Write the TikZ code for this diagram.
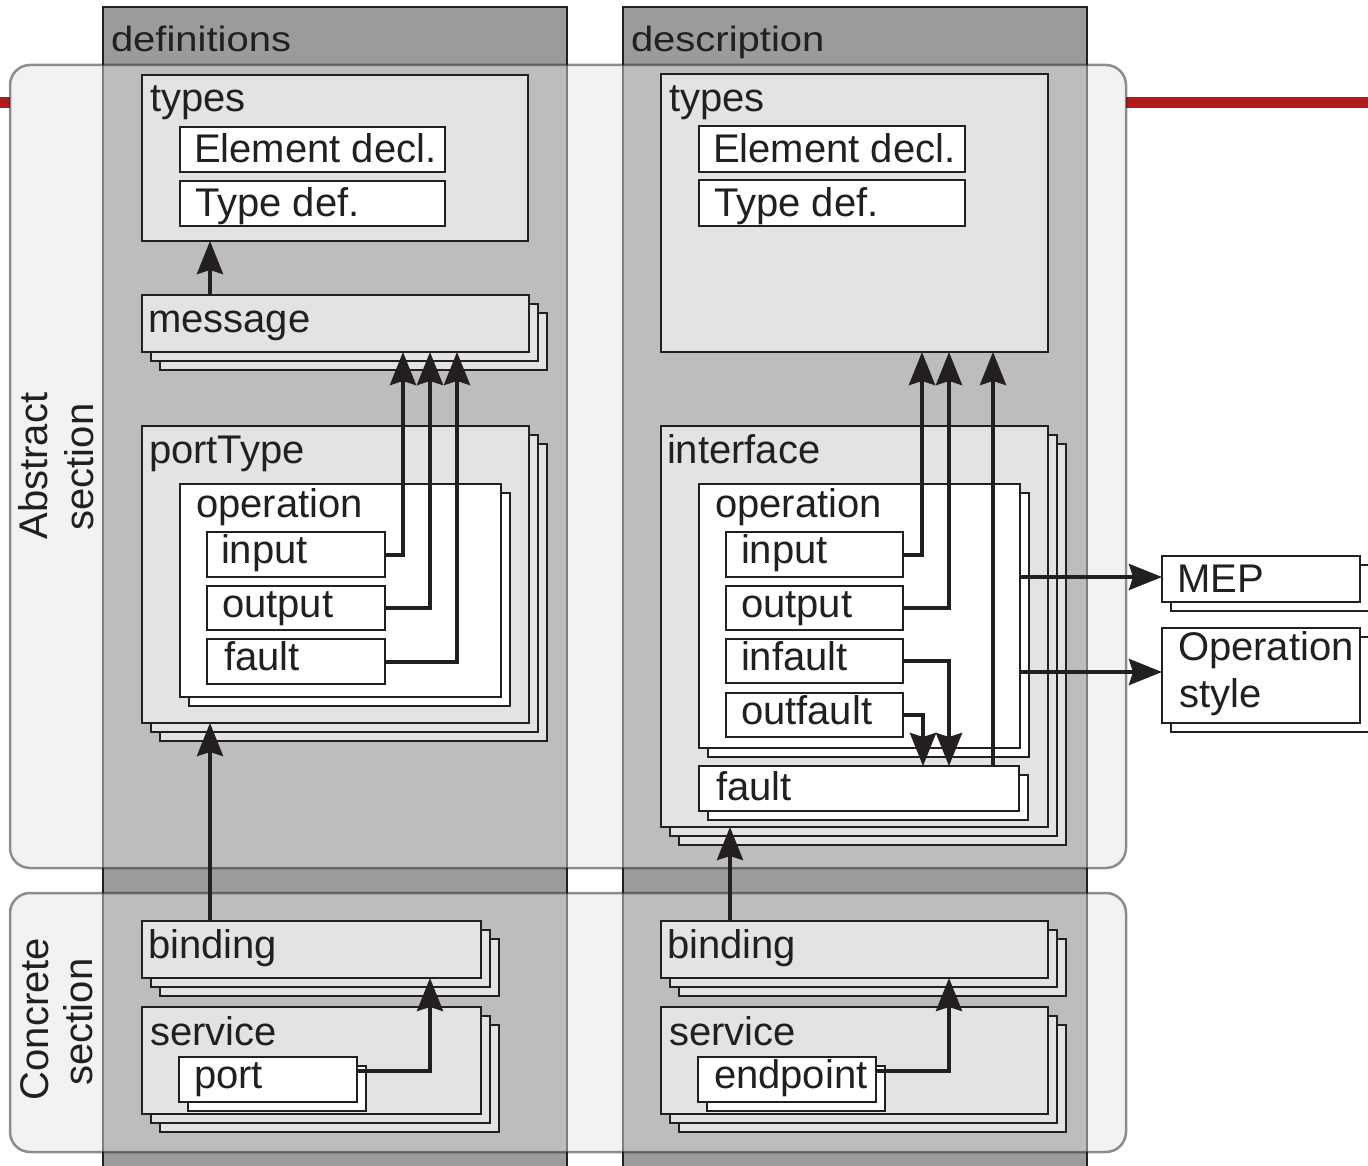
\documentclass[tikz,border=0pt]{standalone}
\usepackage{fontspec}
\setmainfont{Liberation Sans}
\usepackage{graphicx}
\usetikzlibrary{arrows.meta}

\definecolor{ink}{HTML}{231F20}
\definecolor{colfill}{HTML}{9B9B9B}
\definecolor{boxgray}{HTML}{E3E3E3}
\definecolor{secfill}{HTML}{E4E4E4}
\definecolor{rulered}{HTML}{B01C1C}

\tikzset{
  every node/.style={inner sep=0pt, outer sep=0pt},
  gbox/.style={rectangle, draw=ink, line width=2pt, fill=boxgray},
  wbox/.style={rectangle, draw=ink, line width=2pt, fill=white},
  lab/.style={text=ink, font=\fontsize{40}{46}\selectfont, anchor=base west},
  vlab/.style={lab, anchor=base, rotate=90},
  conn/.style={draw=ink, line width=4pt, -{Stealth[length=33pt,width=26pt,inset=4pt]}},
  colband/.style={draw=ink, line width=2.5pt, fill=colfill},
  secpanel/.style={draw=black!90, fill=secfill, opacity=0.48, line width=2.5pt, rounded corners=20pt},
}

% box with 0, 1 or 2 stacked copies behind it: name, style, copies, x1, y1, x2, y2
\newcommand\stackbox[7]{%
  \pgfmathsetmacro\bw{#6-#4}%
  \pgfmathsetmacro\bh{#7-#5}%
  \ifnum#3>1
    \node[#2, minimum width=\bw pt, minimum height=\bh pt, anchor=north west] (#1-s2) at (#4+18,#5+18) {};
  \fi
  \ifnum#3>0
    \node[#2, minimum width=\bw pt, minimum height=\bh pt, anchor=north west] (#1-s1) at (#4+9,#5+9) {};
  \fi
  \node[#2, minimum width=\bw pt, minimum height=\bh pt, anchor=north west] (#1) at (#4,#5) {};
}

\begin{document}
\begin{tikzpicture}[x=1pt, y=-1pt]
\useasboundingbox (0,0) rectangle (1368,1166);
\fill[white] (0,0) rectangle (1368,1166);

% red rule behind the sections
\fill[rulered] (0,97) rectangle (10,108);
\fill[rulered] (1126,97) rectangle (1368,108);

% the two document columns
\path[colband] (103,7) rectangle (567,1172);
\path[colband] (623,7) rectangle (1087,1172);

% abstract and concrete sections
\path[secpanel] (10,65) rectangle (1126,868);
\path[secpanel] (10,893) rectangle (1126,1152);

% column headers
\node[lab] (hdef) at (111,52) {\scalebox{1}[0.88]{definitions}};
\node[lab] (hdesc) at (631,52) {\scalebox{1}[0.88]{description}};

% section titles
\node[vlab] (abs1) at (47,466) {Abstract};
\node[vlab] (abs2) at (93,467) {section};
\node[vlab] (con1) at (48,1019) {Concrete};
\node[vlab] (con2) at (92,1022) {section};

% ---------- definitions (left) ----------
\stackbox{ltypes}{gbox}{0}{142}{75}{528}{241}
\node[lab] (ltypes-t) at (150,112) {types};
\stackbox{lelem}{wbox}{0}{180}{127}{445}{172}
\node[lab] (lelem-t) at (194,163) {Element decl.};
\stackbox{ltdef}{wbox}{0}{180}{181}{445}{226}
\node[lab] (ltdef-t) at (195,217) {Type def.};

\stackbox{msg}{gbox}{2}{142}{295}{529}{352}
\node[lab] (msg-t) at (148,332) {message};

\stackbox{ptype}{gbox}{2}{142}{426}{529}{723}
\node[lab] (ptype-t) at (149,463) {portType};
\stackbox{lop}{wbox}{1}{180}{484}{501}{697}
\node[lab] (lop-t) at (196,517) {operation};
\stackbox{lin}{wbox}{0}{207}{532}{385}{577}
\node[lab] (lin-t) at (221,563) {input};
\stackbox{lout}{wbox}{0}{207}{586}{385}{630}
\node[lab] (lout-t) at (222,617) {output};
\stackbox{lflt}{wbox}{0}{207}{639}{385}{684}
\node[lab] (lflt-t) at (224,670) {fault};

\stackbox{lbind}{gbox}{2}{142}{921}{481}{978}
\node[lab] (lbind-t) at (148,958) {binding};
\stackbox{lserv}{gbox}{2}{142}{1007}{481}{1114}
\node[lab] (lserv-t) at (150,1045) {service};
\stackbox{lportb}{wbox}{1}{179}{1057}{357}{1102}
\node[lab] (lportb-t) at (194,1088) {port};

% ---------- description (right) ----------
\stackbox{rtypes}{gbox}{0}{661}{74}{1048}{352}
\node[lab] (rtypes-t) at (669,112) {types};
\stackbox{relem}{wbox}{0}{699}{126}{965}{172}
\node[lab] (relem-t) at (713,163) {Element decl.};
\stackbox{rtdef}{wbox}{0}{699}{180}{965}{226}
\node[lab] (rtdef-t) at (714,217) {Type def.};

\stackbox{iface}{gbox}{2}{661}{426}{1048}{827}
\node[lab] (iface-t) at (667,463) {interface};
\stackbox{rop}{wbox}{1}{699}{484}{1020}{748}
\node[lab] (rop-t) at (715,517) {operation};
\stackbox{rin}{wbox}{0}{726}{532}{903}{577}
\node[lab] (rin-t) at (741,563) {input};
\stackbox{rout}{wbox}{0}{726}{586}{903}{630}
\node[lab] (rout-t) at (741,617) {output};
\stackbox{rinf}{wbox}{0}{726}{639}{903}{683}
\node[lab] (rinf-t) at (741,670) {infault};
\stackbox{routf}{wbox}{0}{726}{693}{903}{737}
\node[lab] (routf-t) at (741,724) {outfault};
\stackbox{rflt}{wbox}{1}{699}{766}{1019}{811}
\node[lab] (rflt-t) at (716,800) {fault};

\stackbox{rbind}{gbox}{2}{661}{921}{1048}{978}
\node[lab] (rbind-t) at (667,958) {binding};
\stackbox{rserv}{gbox}{2}{661}{1007}{1048}{1114}
\node[lab] (rserv-t) at (669,1045) {service};
\stackbox{endp}{wbox}{1}{698}{1057}{876}{1102}
\node[lab] (endp-t) at (714,1088) {endpoint};

% ---------- side properties ----------
\stackbox{mep}{wbox}{1}{1162}{556}{1360}{602}
\node[lab] (mep-t) at (1177,592) {MEP};
\stackbox{ostyle}{wbox}{1}{1162}{628}{1360}{723}
\node[lab] (ostyle-t1) at (1178,660) {Operation};
\node[lab] (ostyle-t2) at (1179,707) {style};

% ---------- connectors ----------
% definitions
\draw[conn] ([xshift=68pt]msg.north west) -- ([xshift=68pt]ltypes.south west);
\draw[conn] (lin.east) -| ([xshift=261pt]msg.south west);
\draw[conn] (lout.east) -| ([xshift=288pt]msg.south west);
\draw[conn] (lflt.east) -| ([xshift=315pt]msg.south west);
\draw[conn] ([xshift=68pt]lbind.north west) -- ([xshift=68pt]ptype.south west);
\draw[conn] ([yshift=8.5pt]lportb.east) -| ([xshift=288pt]lbind.south west);

% description
\draw[conn] (rin.east) -| ([xshift=261pt]rtypes.south west);
\draw[conn] (rout.east) -| ([xshift=288pt]rtypes.south west);
\draw[conn] (rinf.east) -| ([xshift=250pt]rflt.north west);
\draw[conn] (routf.east) -| ([xshift=224pt]rflt.north west);
\draw[conn] ([xshift=294pt]rflt.north west) -- ([xshift=332pt]rtypes.south west);
\draw[conn] ([xshift=69pt]rbind.north west) -- ([xshift=69pt]iface.south west);
\draw[conn] ([yshift=8.5pt]endp.east) -| ([xshift=288pt]rbind.south west);

% operation properties
\coordinate (mepin) at ([yshift=2pt]mep.west);
\coordinate (ostylein) at ([yshift=3.5pt]ostyle.west);
\draw[conn] (rop.east |- mepin) -- (mepin);
\draw[conn] (rop.east |- ostylein) -- (ostylein);
\end{tikzpicture}
\end{document}
